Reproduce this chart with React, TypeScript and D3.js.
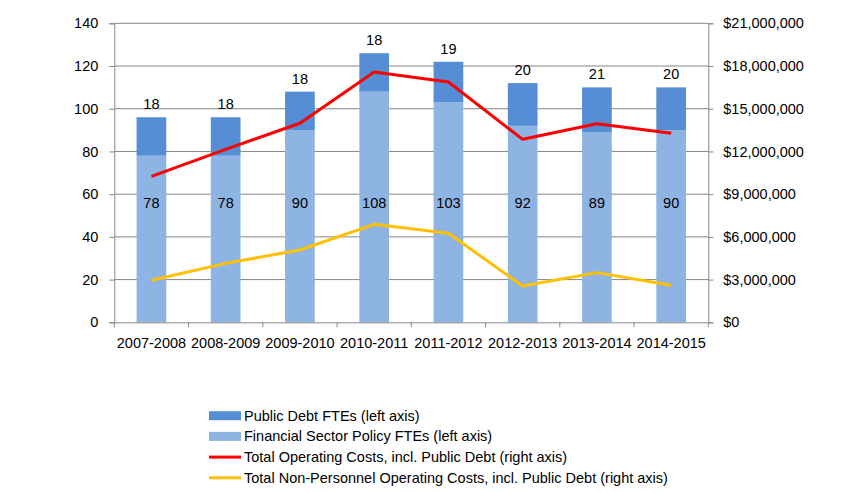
import { useEffect, useRef } from "react";
import { axisBottom, axisLeft, axisRight, line, scaleBand, scaleLinear, select } from "d3";

const years = ["2007-2008", "2008-2009", "2009-2010", "2010-2011", "2011-2012", "2012-2013", "2013-2014", "2014-2015"];
const financialFTEs = [78, 78, 90, 108, 103, 92, 89, 90];
const publicDebtFTEs = [18, 18, 18, 18, 19, 20, 21, 20];
const totalCosts = [10250000, 12150000, 13980000, 17580000, 16880000, 12850000, 13950000, 13270000];
const nonPersonnelCosts = [2950000, 4140000, 5080000, 6880000, 6250000, 2550000, 3490000, 2600000];
const leftTicks = [0, 20, 40, 60, 80, 100, 120, 140];
const rightTicks = [0, 3000000, 6000000, 9000000, 12000000, 15000000, 18000000, 21000000];

const legendItems = [
  { label: "Public Debt FTEs (left axis)", color: "#558ED5", kind: "bar" },
  { label: "Financial Sector Policy FTEs (left axis)", color: "#8EB4E3", kind: "bar" },
  { label: "Total Operating Costs, incl. Public Debt (right axis)", color: "#FF0000", kind: "line" },
  { label: "Total Non-Personnel Operating Costs, incl. Public Debt (right axis)", color: "#FFC000", kind: "line" },
];

const W = 864;
const H = 492;
const FONT = "'Liberation Sans', Arial, sans-serif";
const FS = "14.5px";

export default function App() {
  const ref = useRef<SVGSVGElement>(null);

  useEffect(() => {
    const svg = select(ref.current);
    svg.selectAll("*").remove();

    const left = 114.3, right = 708.3, top = 23.3, bottom = 322.3;
    const x = scaleBand().domain(years).range([left, right]).paddingInner(0.6).paddingOuter(0.3);
    const yL = scaleLinear().domain([0, 140]).range([bottom, top]);
    const yR = scaleLinear().domain([0, 21000000]).range([bottom, top]);
    const cx = (d: string) => (x(d) ?? 0) + x.bandwidth() / 2;

    // gridlines
    svg.append("g").selectAll("line").data(leftTicks.slice(1)).join("line")
      .attr("x1", left).attr("x2", right)
      .attr("y1", (d) => yL(d)).attr("y2", (d) => yL(d))
      .attr("stroke", "#868686").attr("stroke-width", 1);

    // bars
    const bars = svg.append("g");
    bars.selectAll("rect.fin").data(years).join("rect")
      .attr("x", (d) => x(d) ?? 0).attr("width", x.bandwidth())
      .attr("y", (_, i) => yL(financialFTEs[i]))
      .attr("height", (_, i) => yL(0) - yL(financialFTEs[i]))
      .attr("fill", "#8EB4E3");
    bars.selectAll("rect.debt").data(years).join("rect")
      .attr("x", (d) => x(d) ?? 0).attr("width", x.bandwidth())
      .attr("y", (_, i) => yL(financialFTEs[i] + publicDebtFTEs[i]))
      .attr("height", (_, i) => yL(financialFTEs[i]) - yL(financialFTEs[i] + publicDebtFTEs[i]))
      .attr("fill", "#558ED5");

    // axes
    const axisStyle = (g: any) => {
      g.selectAll("path").attr("stroke", "#868686");
      g.selectAll("line").attr("stroke", "#868686");
      g.selectAll("text").attr("fill", "#000").style("font-family", FONT).style("font-size", FS);
    };
    svg.append("g").attr("transform", `translate(${left},0)`)
      .call(axisLeft(yL).tickValues(leftTicks).tickSize(5).tickSizeOuter(5).tickPadding(11) as any)
      .call(axisStyle);
    svg.append("g").attr("transform", `translate(${right},0)`)
      .call(axisRight(yR).tickValues(rightTicks).tickSize(5).tickSizeOuter(5).tickPadding(10)
        .tickFormat((d: any) => "$" + Number(d).toLocaleString("en-US")) as any)
      .call(axisStyle);
    const xAxis = svg.append("g").attr("transform", `translate(0,${bottom})`)
      .call(axisBottom(x).tickSize(0).tickSizeOuter(0).tickPadding(15) as any)
      .call(axisStyle);
    xAxis.selectAll("line").remove();
    const bounds = years.map((d) => (x(d) ?? 0) - (x.step() - x.bandwidth()) / 2).concat([right]);
    svg.append("g").selectAll("line").data(bounds).join("line")
      .attr("x1", (d) => d).attr("x2", (d) => d)
      .attr("y1", bottom).attr("y2", bottom + 5)
      .attr("stroke", "#868686");

    // lines
    const mk = line<number>().x((_, i) => cx(years[i])).y((d) => yR(d));
    svg.append("path").datum(totalCosts).attr("d", mk)
      .attr("fill", "none").attr("stroke", "#FF0000").attr("stroke-width", 3).attr("stroke-linejoin", "round");
    svg.append("path").datum(nonPersonnelCosts).attr("d", mk)
      .attr("fill", "none").attr("stroke", "#FFC000").attr("stroke-width", 3).attr("stroke-linejoin", "round");

    // labels
    const labels = svg.append("g").style("font-family", FONT).style("font-size", FS).attr("text-anchor", "middle");
    labels.selectAll("text.top").data(years).join("text")
      .attr("x", cx).attr("y", (_, i) => yL(financialFTEs[i] + publicDebtFTEs[i]) - 8)
      .text((_, i) => publicDebtFTEs[i]);
    labels.selectAll("text.in").data(years).join("text")
      .attr("x", cx).attr("y", yL(53.5))
      .text((_, i) => financialFTEs[i]);

    // legend
    const lg = svg.append("g").attr("transform", "translate(209,415.7)");
    const row = lg.selectAll("g").data(legendItems).join("g")
      .attr("transform", (_, i) => `translate(0,${i * 20.7})`);
    row.filter((d) => d.kind === "bar").append("rect")
      .attr("x", 0).attr("y", -4.5).attr("width", 32).attr("height", 9).attr("fill", (d) => d.color);
    row.filter((d) => d.kind === "line").append("line")
      .attr("x1", 0).attr("x2", 32).attr("y1", 0).attr("y2", 0)
      .attr("stroke", (d) => d.color).attr("stroke-width", 3);
    row.append("text").attr("x", 35).attr("y", 5)
      .style("font-family", FONT).style("font-size", FS)
      .text((d) => d.label);
  }, []);

  return (
    <svg ref={ref} width={W} height={H} style={{ position: "absolute", left: 0, top: 0, background: "#fff" }} />
  );
}
